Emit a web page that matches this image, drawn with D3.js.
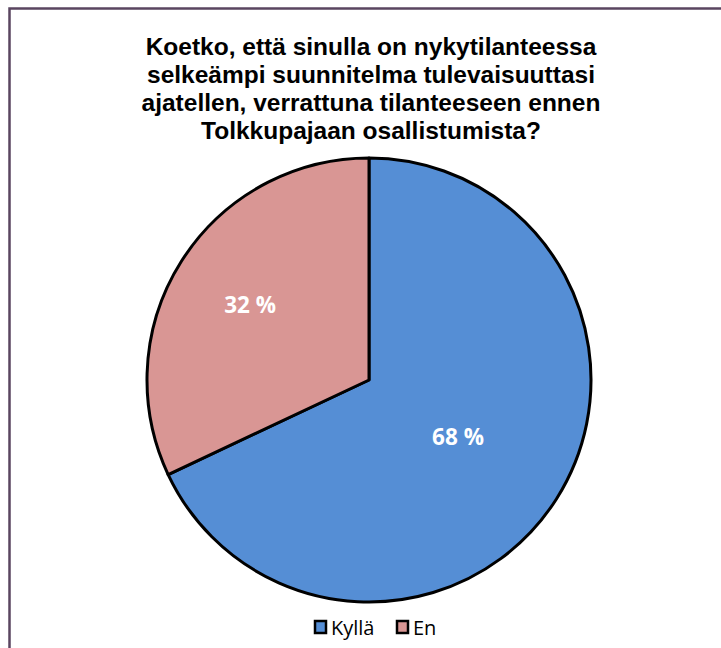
<!DOCTYPE html>
<html><head><meta charset="utf-8">
<script src="https://cdn.jsdelivr.net/npm/d3@7"></script>
<style>body{margin:0;background:#fff;}svg{display:block;}</style>
</head><body>
<script>
const categories = ["Kyllä", "En"];
const values = [68, 32];
const labels = ["68 %", "32 %"];
const titleLines = ["Koetko, että sinulla on nykytilanteessa", "selkeämpi suunnitelma tulevaisuuttasi", "ajatellen, verrattuna tilanteeseen ennen", "Tolkkupajaan osallistumista?"];
const colors = ["#558ed5", "#d99694"];

const W = 721, H = 648;
const svg = d3.select("body").append("svg").attr("width", W).attr("height", H);

// outer frame (extends past right/bottom edges)
svg.append("rect").attr("x", 9.5).attr("y", 8.5).attr("width", W + 20).attr("height", H + 20)
  .attr("fill", "none").attr("stroke", "#5a4560").attr("stroke-width", 2.5);

// title
svg.append("text").attr("x", 371).attr("y", 55)
  .attr("text-anchor", "middle")
  .style("font-family", "'Liberation Sans', Arial, sans-serif")
  .style("font-weight", "bold").style("font-size", "24.5px").attr("fill", "#000")
  .selectAll("tspan").data(titleLines).join("tspan")
  .attr("x", 371).attr("dy", (d, i) => i === 0 ? 0 : 28).text(d => d);

const cx = 369, cy = 380, R = 222;
const pie = d3.pie().sort(null).value(d => d)(values);
const arc = d3.arc().innerRadius(0).outerRadius(R);
const g = svg.append("g").attr("transform", `translate(${cx},${cy})`);
g.selectAll("path").data(pie).join("path")
  .attr("d", arc).attr("fill", (d, i) => colors[i])
  .attr("stroke", "#000").attr("stroke-width", 3).attr("stroke-linejoin", "round");

const labelFactor = [0.475, 0.634];
g.selectAll("text.lbl").data(pie).join("text").attr("class", "lbl")
  .attr("transform", (d, i) => {
    const a = (d.startAngle + d.endAngle) / 2, r = R * labelFactor[i];
    return `translate(${Math.sin(a) * r},${-Math.cos(a) * r})`;
  })
  .attr("text-anchor", "middle").attr("dy", "0.36em")
  .style("font-family", "'Open Sans', sans-serif").style("font-weight", "bold")
  .style("font-size", "22.5px").attr("fill", "#fff")
  .text((d, i) => labels[i]);

// legend
const legendX = [314, 396];
const lg = svg.append("g");
categories.forEach((c, i) => {
  lg.append("rect").attr("x", legendX[i] + 1).attr("y", 621).attr("width", 11).attr("height", 12)
    .attr("fill", colors[i]).attr("stroke", "#000").attr("stroke-width", 2.5);
  lg.append("text").attr("x", legendX[i] + 17).attr("y", 635)
    .style("font-family", "'Open Sans', sans-serif").style("font-size", "20px")
    .attr("fill", "#000").text(c);
});
</script>
</body></html>
